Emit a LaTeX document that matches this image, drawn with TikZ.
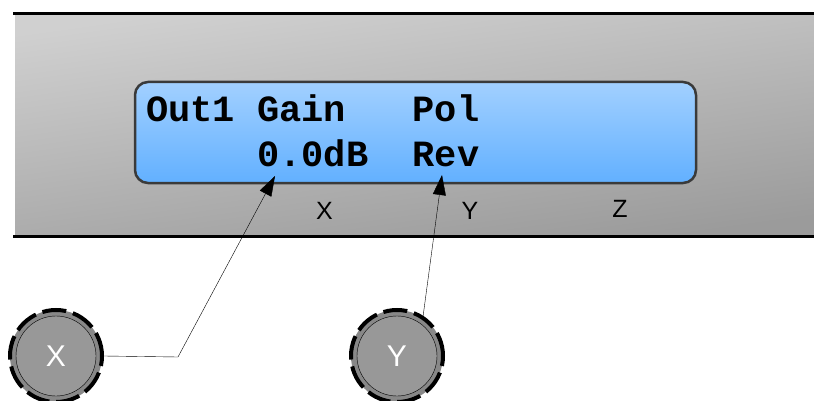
\documentclass[tikz,border=0pt]{standalone}
\usepackage{xcolor}
\usepackage{fontspec}
\setmainfont{Liberation Sans}
\newfontfamily\lcdfont{Liberation Mono}
\usepackage{tikz}
\usetikzlibrary{shapes,arrows,positioning,calc,arrows.meta}
\definecolor{panellight}{RGB}{208,208,208}
\definecolor{paneldark}{RGB}{155,155,155}
\definecolor{lcdtop}{RGB}{162,208,255}
\definecolor{lcdbottom}{RGB}{98,176,255}
\definecolor{lcdrim}{RGB}{58,58,58}
\definecolor{knobring}{RGB}{136,136,136}
\definecolor{knobface}{RGB}{152,152,152}

\begin{document}
\begin{tikzpicture}[x=1pt,y=-1pt,
    lcdtext/.style={anchor=base west, inner sep=0pt, font=\lcdfont\bfseries\fontsize{37}{40}\selectfont},
    knob/.style={circle, minimum size=92pt, inner sep=0pt, fill=knobring, draw=black, line width=4pt,
        dash pattern=on 24pt off 7pt, text=white, font=\fontsize{30}{32}\selectfont},
    keylabel/.style={anchor=base, inner sep=0pt, font=\fontsize{25}{27}\selectfont},
    pointer/.style={-{Triangle[length=20pt,width=13pt]}, thin}]
    \useasboundingbox (0,0) rectangle (814,401);
    % Front panel
    \shade[top color=panellight, bottom color=paneldark, shading angle=8] (15,14) rectangle (814,236);
    \draw[line width=3pt] (13,14) -- (814,14);
    \draw[line width=3pt] (13,236) -- (814,236);
    % Display
    \node[draw=lcdrim, line width=2.5pt, rounded corners=13pt, top color=lcdtop, bottom color=lcdbottom,
        minimum width=561pt, minimum height=101pt, inner sep=0pt] (lcd) at (415.5,132.5) {};
    \node[lcdtext] (row1) at (146,122) {Out1~Gain~~~Pol};
    \node[lcdtext] (row2) at (146,167) {~~~~~0.0dB~~Rev};
    % Soft keys
    \node[keylabel] (keyx) at (324.5,219) {X};
    \node[keylabel] (keyy) at (470,219) {Y};
    \node[keylabel] (keyz) at (620,217) {Z};
    % Knobs
    \node[knob] (knobx) at (56,356) {};
    \draw[thin, fill=knobface] (knobx.center) circle[radius=40pt];
    \node[text=white, font=\fontsize{30}{32}\selectfont] at (knobx.center) {X};
    \node[knob] (knoby) at (397,356) {};
    \draw[thin, fill=knobface] (knoby.center) circle[radius=40pt];
    \node[text=white, font=\fontsize{30}{32}\selectfont] at (knoby.center) {Y};
    % Pointers
    \coordinate (gaintip) at (275,176);
    \coordinate (poltip) at (442,175);
    \coordinate (bend) at (178,357);
    \draw[pointer] (knobx.east) -- (bend) -- (gaintip);
    \draw[pointer] (knoby.57) -- (poltip);
\end{tikzpicture}
\end{document}
